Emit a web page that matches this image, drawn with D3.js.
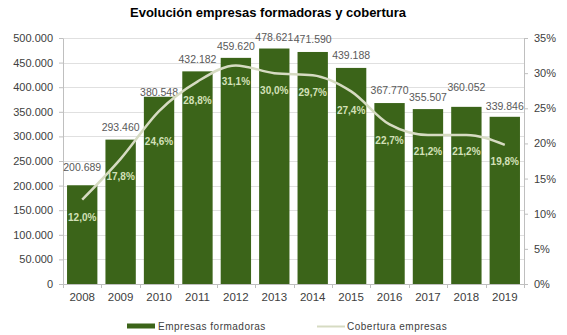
<!DOCTYPE html>
<html>
<head>
<meta charset="utf-8">
<script src="https://cdn.jsdelivr.net/npm/d3@7/dist/d3.min.js"></script>
<style>
  body { margin: 0; background: #fff; }
  svg text { font-family: "Liberation Sans", Arial, sans-serif; }
</style>
</head>
<body>
<div id="chart"></div>
<script>
// data
var years = ["2008", "2009", "2010", "2011", "2012", "2013", "2014", "2015", "2016", "2017", "2018", "2019"];
var empresas = [200689, 293460, 380548, 432182, 459620, 478621, 471590, 439188, 367770, 355507, 360052, 339846];
var cobertura = [12.0, 17.8, 24.6, 28.8, 31.1, 30.0, 29.7, 27.4, 22.7, 21.2, 21.2, 19.8];
var leftTicks = [0, 50000, 100000, 150000, 200000, 250000, 300000, 350000, 400000, 450000, 500000];
var rightTicks = [0, 5, 10, 15, 20, 25, 30, 35];

// label placement tweaks (layout only)
var valueLift = [14, 9, 1, 8, 8, 8, 9, 9, 9, 8, 16, 7];
var pctDrop = [21, 21, 34, 22, 20, 21, 21, 23, 20, 20, 20, 20];

var W = 567, H = 335;
var margin = {top: 38, right: 43, bottom: 51, left: 63};
var width = W - margin.left - margin.right;
var height = H - margin.top - margin.bottom;

var es = d3.formatLocale({decimal: ",", thousands: ".", grouping: [3], currency: ["", "€"]});
var fmtNum = es.format(",d");
var fmtPct = es.format(".1f");

var svg = d3.select("#chart").append("svg")
  .attr("width", W)
  .attr("height", H);

svg.append("text")
  .attr("x", 268)
  .attr("y", 17)
  .attr("text-anchor", "middle")
  .style("font-weight", "bold")
  .style("font-size", "13px")
  .attr("fill", "#000")
  .text("Evolución empresas formadoras y cobertura");

var g = svg.append("g")
  .attr("transform", "translate(" + margin.left + "," + margin.top + ")");

var x = d3.scaleBand()
  .domain(years)
  .range([0, width])
  .paddingInner(0.21)
  .paddingOuter(0.105);

var xb = d3.scaleBand().domain(years).range([0, width]);

var y = d3.scaleLinear().domain([0, 500000]).range([height, 0]);
var y2 = d3.scaleLinear().domain([0, 35]).range([height, 0]);

// gridlines
g.append("g")
  .selectAll("line")
  .data(leftTicks.slice(1))
  .join("line")
  .attr("x1", 0)
  .attr("x2", width)
  .attr("y1", function(d) { return Math.round(y(d)) + 0.5; })
  .attr("y2", function(d) { return Math.round(y(d)) + 0.5; })
  .attr("stroke", "#e0e0e0");

// axes
var yAxis = d3.axisLeft(y)
  .tickValues(leftTicks)
  .tickFormat(fmtNum)
  .tickSizeInner(4)
  .tickSizeOuter(0)
  .tickPadding(6);

var yAxis2 = d3.axisRight(y2)
  .tickValues(rightTicks)
  .tickFormat(function(d) { return d + "%"; })
  .tickSizeInner(4)
  .tickSizeOuter(0)
  .tickPadding(6);

var xAxis = d3.axisBottom(xb)
  .tickSize(0)
  .tickPadding(9);

var gy = g.append("g").attr("class", "y axis").call(yAxis);
var gy2 = g.append("g").attr("class", "y2 axis")
  .attr("transform", "translate(" + width + ",0)")
  .call(yAxis2);
var gx = g.append("g").attr("class", "x axis")
  .attr("transform", "translate(0," + height + ")")
  .call(xAxis);

// x ticks between categories
gx.selectAll(".sep")
  .data(d3.range(years.length + 1))
  .join("line")
  .attr("class", "sep")
  .attr("x1", function(i) { return Math.round(i * xb.step()) + 0.5; })
  .attr("x2", function(i) { return Math.round(i * xb.step()) + 0.5; })
  .attr("y1", 0)
  .attr("y2", 4)
  .attr("stroke", "#bfbfbf");

[gy, gy2, gx].forEach(function(a) {
  a.select(".domain").attr("stroke", "#bfbfbf");
  a.selectAll(".tick line").attr("stroke", "#bfbfbf");
  a.selectAll("text")
    .attr("fill", "#404040")
    .style("font-size", "11px")
    .style("font-family", "'Liberation Sans', Arial, sans-serif");
});
gx.selectAll("text").style("font-size", "11.5px");

// bars
g.append("g")
  .selectAll("rect")
  .data(years)
  .join("rect")
  .attr("x", function(d) { return x(d); })
  .attr("y", function(d, i) { return y(empresas[i]); })
  .attr("width", x.bandwidth())
  .attr("height", function(d, i) { return height - y(empresas[i]); })
  .attr("fill", "#3b6419");

// value labels
g.append("g")
  .selectAll("text")
  .data(years)
  .join("text")
  .attr("x", function(d) { return x(d) + x.bandwidth() / 2; })
  .attr("y", function(d, i) { return y(empresas[i]) - valueLift[i]; })
  .attr("text-anchor", "middle")
  .attr("fill", "#595959")
  .style("font-size", "10.5px")
  .text(function(d, i) { return fmtNum(empresas[i]); });

// coverage line
var line = d3.line()
  .x(function(d, i) { return x(years[i]) + x.bandwidth() / 2; })
  .y(function(d) { return y2(d); })
  .curve(d3.curveMonotoneX);

g.append("path")
  .datum(cobertura)
  .attr("d", line)
  .attr("fill", "none")
  .attr("stroke", "#d6dbc2")
  .attr("stroke-width", 2.5);

// percent labels
g.append("g")
  .selectAll("text")
  .data(cobertura)
  .join("text")
  .attr("x", function(d, i) { return x(years[i]) + x.bandwidth() / 2; })
  .attr("y", function(d, i) { return y2(d) + pctDrop[i]; })
  .attr("text-anchor", "middle")
  .attr("fill", "#d3e0b8")
  .style("font-size", "10px")
  .style("font-weight", "bold")
  .text(function(d) { return fmtPct(d) + "%"; });

// legend
var legend = svg.append("g").attr("transform", "translate(0,326)");
legend.append("rect")
  .attr("x", 127).attr("y", -2.5)
  .attr("width", 28).attr("height", 5)
  .attr("fill", "#3b6419");
legend.append("text")
  .attr("x", 158).attr("y", 4)
  .attr("fill", "#404040")
  .style("font-size", "10px")
  .style("letter-spacing", "0.5px")
  .text("Empresas formadoras");
legend.append("line")
  .attr("x1", 317).attr("x2", 345)
  .attr("y1", 0.5).attr("y2", 0.5)
  .attr("stroke", "#d6dbc2")
  .attr("stroke-width", 2);
legend.append("text")
  .attr("x", 347).attr("y", 4)
  .attr("fill", "#404040")
  .style("font-size", "10px")
  .style("letter-spacing", "0.5px")
  .text("Cobertura empresas");
</script>
</body>
</html>
